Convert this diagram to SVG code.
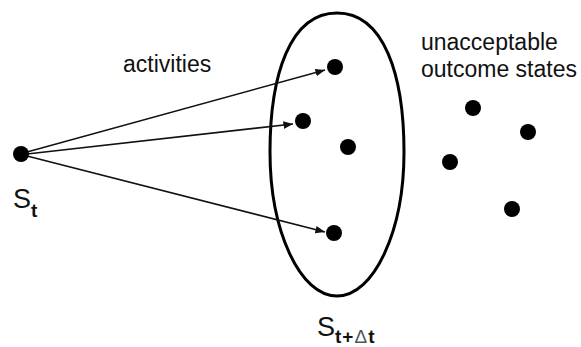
<svg xmlns="http://www.w3.org/2000/svg" width="581" height="347" viewBox="0 0 581 347">
<style>
text{font-family:"Liberation Sans",Arial,sans-serif;fill:#111}
.dot{fill:#000}
.edge{stroke:#111;stroke-width:1.6;fill:none;marker-end:url(#ah)}
.lbl{font-size:23px}
.big{font-size:27px}
.sub{font-size:19px;font-weight:bold}
</style>
<defs>
<marker id="ah" viewBox="0 0 10 10" refX="10" refY="5" markerWidth="6" markerHeight="6" markerUnits="strokeWidth" orient="auto">
<path d="M0,1 L10,5 L0,9 z" fill="#111"/>
</marker>
</defs>
<g id="region">
<path d="M337,13 C384,13 404,75 404,152 C404,231 374,296 337,296 C300,296 270,231 270,152 C270,75 290,13 337,13 Z" fill="none" stroke="#000" stroke-width="3"/>
</g>
<g id="connectors">
<line class="edge" x1="27" y1="152" x2="325" y2="70"/>
<line class="edge" x1="27" y1="154" x2="293" y2="124"/>
<line class="edge" x1="27" y1="156" x2="325" y2="232"/>
</g>
<g id="source">
<circle class="dot" cx="21" cy="154" r="8"/>
<text x="13" y="208" class="big">S<tspan class="sub" dy="9">t</tspan></text>
</g>
<g id="outcome1"><circle class="dot" cx="335" cy="67" r="8"/></g>
<g id="outcome2"><circle class="dot" cx="303" cy="121" r="8"/></g>
<g id="outcome3"><circle class="dot" cx="348" cy="147" r="8"/></g>
<g id="outcome4"><circle class="dot" cx="334" cy="233" r="8"/></g>
<g id="bad1"><circle class="dot" cx="473" cy="108" r="8"/></g>
<g id="bad2"><circle class="dot" cx="528" cy="132" r="8"/></g>
<g id="bad3"><circle class="dot" cx="450" cy="162" r="8"/></g>
<g id="bad4"><circle class="dot" cx="512" cy="209" r="8"/></g>
<g id="labels">
<text x="123" y="72" class="lbl">activities</text>
<text x="421" y="50" class="lbl">unacceptable</text>
<text x="421" y="77" class="lbl">outcome states</text>
<text x="317" y="336" class="big">S<tspan class="sub" dy="7" letter-spacing="1">t+<tspan fill="#555" font-weight="normal">Δ</tspan>t</tspan></text>
</g>
</svg>
